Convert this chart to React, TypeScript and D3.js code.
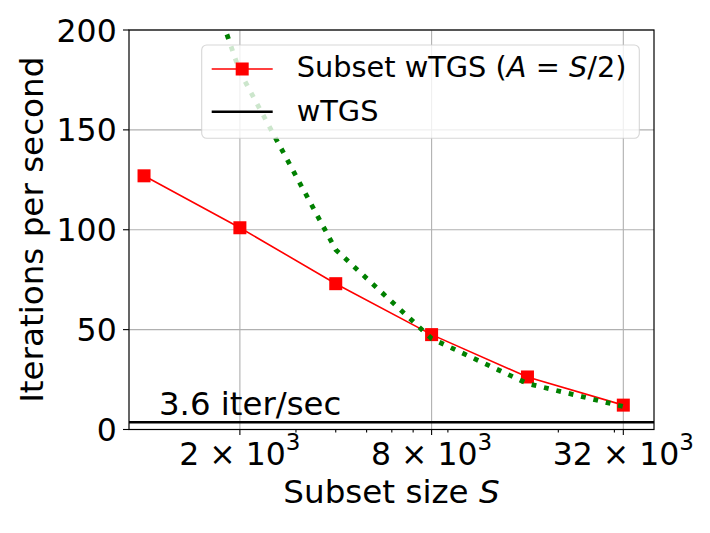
import * as d3 from 'd3';

// Subset sizes S and measured throughput (iterations per second)
const subsetSizes = [1000, 2000, 4000, 8000, 16000, 32000];
const subsetRate = [127, 101, 73, 47.5, 26.3, 12.2];
// dotted green reference curve (no legend entry)
const referenceRate = [318, 179, 90, 45.5, 23, 11.5];
const wtgsRate = 3.6;

const xMajorTicks = [2000, 8000, 32000];
const xMajorMantissa = ['2', '8', '32'];
const xMinorTicks = [3000, 4000, 5000, 6000, 7000, 9000, 20000, 30000];
const yTicks = [0, 50, 100, 150, 200];

const W = 710;
const H = 533;
const left = 129, right = 654, top = 30, bottom = 429.5;
const FONT = '"DejaVu Sans", sans-serif';
const tickFs = 31.5;
const legendFs = 28.8;
const labelFs = 32.6;

export default function App() {
  const x = d3.scaleLog().base(2).domain([897, 39950]).range([left, right]);
  const y = d3.scaleLinear().domain([0, 200]).range([bottom, top]);

  const line = d3.line<number>()
    .x((_, i) => x(subsetSizes[i]))
    .y(d => y(d));

  const markerSize = 13;

  return (
    <svg width={W} height={H} viewBox={`0 0 ${W} ${H}`}
      style={{ position: 'absolute', left: 0, top: 0, background: '#fff' }}
      fontFamily={FONT}>
      <defs>
        <clipPath id="plot-area">
          <rect x={left} y={top} width={right - left} height={bottom - top} />
        </clipPath>
      </defs>

      {/* grid */}
      <g stroke="#b0b0b0" strokeWidth={1.1}>
        {xMajorTicks.map(t => (
          <line key={'gx' + t} x1={x(t)} x2={x(t)} y1={top} y2={bottom} />
        ))}
        {yTicks.map(t => (
          <line key={'gy' + t} x1={left} x2={right} y1={y(t)} y2={y(t)} />
        ))}
      </g>

      <g clipPath="url(#plot-area)">
        {/* wTGS baseline */}
        <line x1={left} x2={right} y1={y(wtgsRate)} y2={y(wtgsRate)}
          stroke="#000" strokeWidth={2.6} />

        {/* subset wTGS */}
        <path d={line(subsetRate) ?? ''} fill="none" stroke="#ff0000" strokeWidth={1.6} />
        {subsetRate.map((v, i) => (
          <rect key={'m' + i} x={x(subsetSizes[i]) - markerSize / 2} y={y(v) - markerSize / 2}
            width={markerSize} height={markerSize} fill="#ff0000" />
        ))}

        {/* reference curve */}
        <path d={line(referenceRate) ?? ''} fill="none" stroke="#008000"
          strokeWidth={4.8} strokeDasharray="4.8 7.9" />
      </g>

      <text x={159} y={415} fontSize={32.4} fill="#000">3.6 iter/sec</text>

      {/* spines */}
      <rect x={left} y={top} width={right - left} height={bottom - top}
        fill="none" stroke="#000" strokeWidth={1.2} />

      {/* ticks */}
      <g stroke="#000" strokeWidth={1.1}>
        {xMajorTicks.map(t => (
          <line key={'xt' + t} x1={x(t)} x2={x(t)} y1={bottom} y2={bottom + 5.5} />
        ))}
        {xMinorTicks.map(t => (
          <line key={'xm' + t} x1={x(t)} x2={x(t)} y1={bottom} y2={bottom + 3} />
        ))}
        {yTicks.map(t => (
          <line key={'yt' + t} x1={left - 6} x2={left} y1={y(t)} y2={y(t)} />
        ))}
      </g>

      {xMajorTicks.map((t, i) => (
        <text key={'xl' + t} x={x(t)} y={465} textAnchor="middle" fontSize={tickFs}>
          {xMajorMantissa[i] + ' × 10'}
          <tspan fontSize={23} dy={-15}>3</tspan>
        </text>
      ))}

      {yTicks.map(t => (
        <text key={'yl' + t} x={116.7} y={y(t) + 11.5} textAnchor="end" fontSize={tickFs}>
          {t}
        </text>
      ))}

      <text x={(left + right) / 2} y={503} textAnchor="middle" fontSize={labelFs}>
        Subset size <tspan fontStyle="italic">S</tspan>
      </text>
      <text transform={`translate(43, ${(top + bottom) / 2}) rotate(-90)`}
        textAnchor="middle" fontSize={labelFs}>
        Iterations per second
      </text>

      {/* legend */}
      <g>
        <rect x={201.7} y={45} width={437.6} height={93.3} rx={5}
          fill="#fff" fillOpacity={0.8} stroke="#cccccc" strokeOpacity={0.8} strokeWidth={1.1} />
        <line x1={211.7} x2={272.7} y1={69} y2={69} stroke="#ff0000" strokeWidth={1.6} />
        <rect x={242.2 - markerSize / 2} y={69 - markerSize / 2} width={markerSize}
          height={markerSize} fill="#ff0000" />
        <text x={296.7} y={77} fontSize={legendFs}>
          Subset wTGS (<tspan fontStyle="italic">A</tspan> = <tspan fontStyle="italic">S</tspan>/2)
        </text>
        <line x1={211.7} x2={272.7} y1={111.7} y2={111.7} stroke="#000" strokeWidth={2.6} />
        <text x={296.7} y={121} fontSize={legendFs}>wTGS</text>
      </g>
    </svg>
  );
}
